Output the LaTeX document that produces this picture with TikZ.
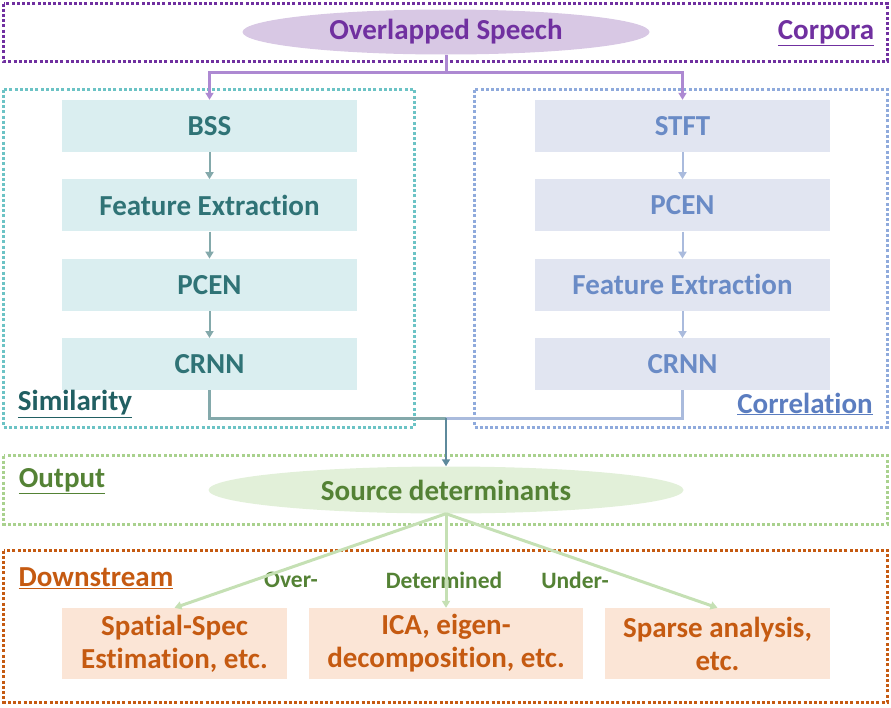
\documentclass[tikz,border=0pt]{standalone}
\usepackage{fontspec}
\setmainfont{Carlito}[Ligatures=NoCommon]
\usetikzlibrary{positioning,shapes.geometric,arrows.meta}
\definecolor{corp}{HTML}{7030A0}
\definecolor{corpfill}{HTML}{D8C8E4}
\definecolor{corpline}{HTML}{AD89D2}
\definecolor{simframe}{HTML}{6CC3C5}
\definecolor{simlabel}{HTML}{215F62}
\definecolor{simfill}{HTML}{DAEEF0}
\definecolor{simtext}{HTML}{2F7376}
\definecolor{simline}{HTML}{84A9AB}
\definecolor{corframe}{HTML}{8FAADC}
\definecolor{corlabel}{HTML}{5B7DC0}
\definecolor{corfill}{HTML}{E1E5F1}
\definecolor{cortext}{HTML}{6A8BC6}
\definecolor{corline}{HTML}{AABBDD}
\definecolor{merge}{HTML}{5E8A9C}
\definecolor{outframe}{HTML}{A9D18E}
\definecolor{outtext}{HTML}{548235}
\definecolor{outfill}{HTML}{E2F0D9}
\definecolor{outline}{HTML}{C5E0B4}
\definecolor{down}{HTML}{C55A11}
\definecolor{downfill}{HTML}{FBE5D6}

\begin{document}
\begin{tikzpicture}[x=1pt,y=-1pt,
    every node/.style={font=\fontsize{29}{33}\selectfont\bfseries},
    frame/.style={line width=3pt,dash pattern=on 3pt off 2.2pt},
    block/.style={minimum width=295pt,minimum height=52pt,inner sep=0pt},
    outbox/.style={minimum width=#1,minimum height=71pt,inner sep=0pt,fill=downfill,text=down,align=center},
    tip/.style={-{Triangle[length=7pt,width=8pt]}},
    small/.style={font=\fontsize{23.5}{27}\selectfont\bfseries,text=outtext}]
    \useasboundingbox (0,0) rectangle (891,707);
    % frames
    \draw[frame,corp] (3.5,3.5) rectangle (887.5,61);
    \draw[frame,simframe] (3.5,89.5) rectangle (414,427);
    \draw[frame,corframe] (474,89.5) rectangle (887.5,427);
    \draw[frame,outframe] (3.5,455.5) rectangle (887.5,524);
    \draw[frame,down] (3.5,550.5) rectangle (887.5,702);
    % corpora
    \node[ellipse,fill=corpfill,text=corp,minimum width=407pt,minimum height=45pt,inner sep=0pt] (sp) at (446,32) {Overlapped Speech};
    \node[text=corp] (corpora) at (826,33) {\underline{Corpora}};
    % similarity branch
    \node[block,fill=simfill,text=simtext] (bss) at (209.5,126) {BSS};
    \node[block,fill=simfill,text=simtext,below=27pt of bss] (fe1) {Feature Extraction};
    \node[block,fill=simfill,text=simtext,below=27pt of fe1] (pcen1) {PCEN};
    \node[block,fill=simfill,text=simtext,below=27pt of pcen1] (crnn1) {CRNN};
    \node[text=simlabel] (similarity) at (75,404) {\underline{Similarity}};
    % correlation branch
    \node[block,fill=corfill,text=cortext] (stft) at (682.5,126) {STFT};
    \node[block,fill=corfill,text=cortext,below=27pt of stft] (pcen2) {PCEN};
    \node[block,fill=corfill,text=cortext,below=27pt of pcen2] (fe2) {Feature Extraction};
    \node[block,fill=corfill,text=cortext,below=27pt of fe2] (crnn2) {CRNN};
    \node[text=corlabel] (correlation) at (805,404) {\underline{Correlation}};
    % output
    \node[ellipse,fill=outfill,text=outtext,minimum width=475pt,minimum height=47pt,inner sep=0pt] (sd) at (446,490) {Source determinants};
    \node[text=outtext] (output) at (62,481) {\underline{Output}};
    % downstream
    \node[text=down] (downstream) at (96,578) {\underline{Downstream}};
    \node[outbox=225pt] (spatial) at (174.5,643.5) {Spatial-Spec\\Estimation, etc.};
    \node[outbox=274pt] (ica) at (446,643.5) {ICA, eigen-\\decomposition, etc.};
    \node[outbox=225pt] (sparse) at (717.5,643.5) {Sparse analysis,\\etc.};
    \node[small] (over) at (291,580) {Over-};
    \node[small] (det) at (444,580) {Determined};
    \node[small] (under) at (575,580) {Under-};
    % connectors
    \coordinate (split) at (446,72);
    \draw[corpline,line width=3pt] (sp.south) -- (split);
    \draw[corpline,line width=3pt,tip] (split) -| (bss.north);
    \draw[corpline,line width=3pt,tip] (split) -| (stft.north);
    \draw[simline,line width=2pt,tip] (bss) -- (fe1);
    \draw[simline,line width=2pt,tip] (fe1) -- (pcen1);
    \draw[simline,line width=2pt,tip] (pcen1) -- (crnn1);
    \draw[corline,line width=2pt,tip] (stft) -- (pcen2);
    \draw[corline,line width=2pt,tip] (pcen2) -- (fe2);
    \draw[corline,line width=2pt,tip] (fe2) -- (crnn2);
    \coordinate (merge) at (446,418);
    \draw[simline,line width=3pt] (crnn1.south) |- (merge);
    \draw[corline,line width=3pt] (crnn2.south) |- (merge);
    \draw[merge,line width=2.5pt,tip] (merge) -- (sd.north);
    \draw[outline,line width=3pt,tip] (sd.south) -- (spatial.north);
    \draw[outline,line width=3pt,tip] (sd.south) -- (ica.north);
    \draw[outline,line width=3pt,tip] (sd.south) -- (sparse.north);
\end{tikzpicture}
\end{document}
